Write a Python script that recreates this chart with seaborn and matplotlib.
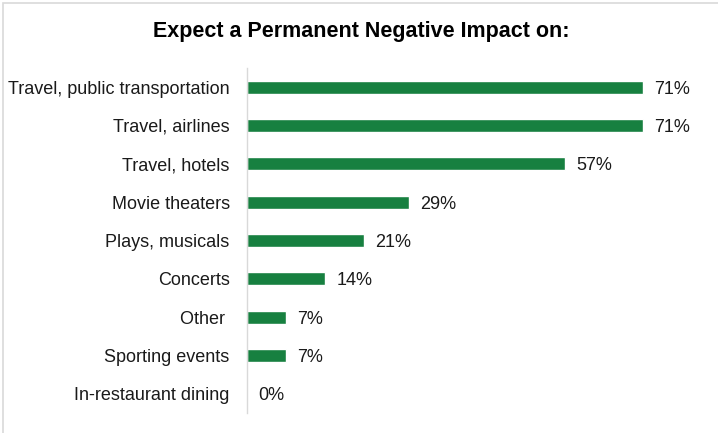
import matplotlib
matplotlib.use("Agg")
import matplotlib.pyplot as plt
import seaborn as sns
import pandas as pd
from matplotlib.patches import Rectangle

categories = [
    "Travel, public transportation",
    "Travel, airlines",
    "Travel, hotels",
    "Movie theaters",
    "Plays, musicals",
    "Concerts",
    "Other ",
    "Sporting events",
    "In-restaurant dining",
]
values = [71, 71, 57, 29, 21, 14, 7, 7, 0]
title = "Expect a Permanent Negative Impact on:"
bar_color = "#178040"

df = pd.DataFrame({"category": categories, "value": values})

sns.set_theme(style="white")
plt.rcParams["font.family"] = ["Liberation Sans", "DejaVu Sans"]

fig = plt.figure(figsize=(7.18, 4.33), dpi=100)
ax = fig.add_axes([247 / 718, 1 - 413 / 433, 446 / 718, 345 / 433])

sns.barplot(data=df, x="value", y="category", color=bar_color,
            width=0.34, saturation=1, ax=ax, orient="h")

ax.set_xlim(0, 80)
ax.set_ylim(8.5, -0.5)
ax.set_xlabel("")
ax.set_ylabel("")
ax.set_xticks([])
for side in ["top", "right", "bottom"]:
    ax.spines[side].set_visible(False)
ax.spines["left"].set_color("#d9d9d9")
ax.spines["left"].set_linewidth(1.0)
ax.tick_params(axis="y", length=0, pad=12.5, labelsize=13, labelcolor="#1a1a1a")

for i, v in enumerate(values):
    ax.text(v + 2.0, i, f"{v}%", va="center_baseline", ha="left",
            fontsize=13, color="#1a1a1a")

fig.text(361 / 718, 1 - 32 / 433, title, ha="center", va="center",
         fontsize=15.5, fontweight="bold", color="#000000")

# light frame around the chart area
fig.patches.append(Rectangle((3 / 718, -0.1), 1.2, 1.1 - 3.5 / 433,
                             transform=fig.transFigure, fill=False,
                             edgecolor="#d9d9d9", linewidth=1.2))

fig.savefig("out.png", dpi=100, facecolor="white")
